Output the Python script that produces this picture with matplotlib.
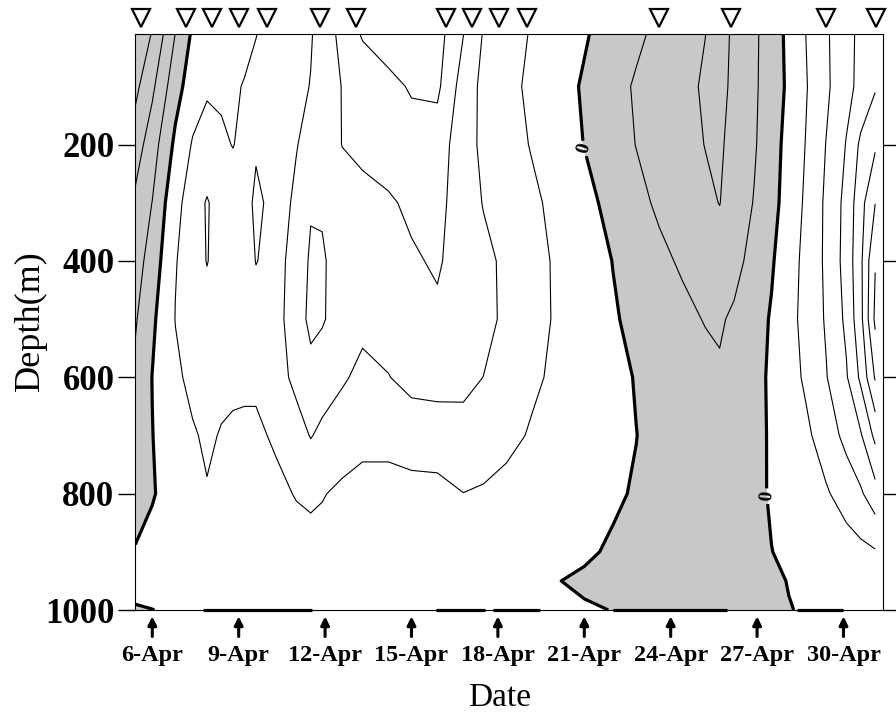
import numpy as np
import matplotlib.pyplot as plt
from matplotlib.transforms import blended_transform_factory

plt.rcParams['font.family'] = 'Liberation Serif'
plt.rcParams['contour.negative_linestyle'] = 'solid'

# time axis in day of April, depth in m
days = [5.41, 6.0, 6.8, 7.4, 7.9, 8.4, 8.8, 9.2, 9.6, 10.3, 11.0, 11.5, 11.9,
        12.6, 13.3, 14.2, 15.0, 15.9, 16.8, 17.5, 18.3, 19.2, 20.0, 21.0, 22.0,
        22.8, 23.6, 24.4, 25.2, 25.7, 26.2, 26.9, 27.5, 28.1, 28.7, 29.4, 30.1,
        30.6, 31.1]
depths = [10, 100, 200, 300, 400, 500, 600, 700, 800, 900, 950, 1000]

# velocity, in units of the contour interval (one row per depth)
u = [
    [-3.6, -2.95, -0.98, 0.15, 0.5, 0.6, 0.65, 0.75, 0.98, 1.33, 1.68, 1.93, 2.36, 3.32, 4.1, 4.5, 4.6, 4.4, 3.02, 1.93,
     1.43, 0.91, 0.55, 0.09, -0.41, -0.82, -1.22, -1.6, -1.99, -2.3, -1.86, -1.18, -0.5, 0.23, 1.01, 1.86, 2.73, 3.2, 3.6],
    [-3.25, -2.2, -0.38, 0.5, 0.95, 0.9, 0.88, 1.05, 1.2, 1.5, 1.77, 2.03, 2.4, 3.04, 3.34, 3.73, 4.1, 4.2, 2.55, 1.76,
     1.28, 0.8, 0.4, -0.1, -0.68, -1.1, -1.44, -1.77, -2.1, -2.2, -1.85, -1.15, -0.5, 0.17, 0.94, 1.82, 2.73, 3.25, 3.9],
    [-2.5, -1.45, 0.2, 1.08, 1.15, 1.1, 0.98, 1.15, 1.85, 1.55, 1.96, 2.3, 2.56, 3.02, 3.2, 3.4, 3.6, 3.5, 2.43, 1.79,
     1.38, 0.93, 0.5, -0.02, -0.57, -1.02, -1.35, -1.69, -2.02, -2.1, -1.77, -1.1, -0.4, 0.32, 1.04, 2.03, 3.05, 4.2, 4.85],
    [-1.8, -0.98, 0.75, 1.4, 2.1, 1.45, 1.3, 1.5, 2.25, 1.6, 2.16, 2.9, 2.9, 2.6, 2.75, 2.9, 3.15, 3.25, 2.55, 1.95,
     1.59, 1.17, 0.78, 0.27, -0.28, -0.74, -1.15, -1.49, -1.83, -2.02, -1.6, -0.95, -0.31, 0.4, 1.16, 2.17, 3.3, 4.65, 5.98],
    [-1.45, -0.55, 0.96, 1.35, 2.05, 1.45, 1.4, 1.5, 2.03, 1.7, 2.35, 3.15, 3.1, 2.6, 2.7, 2.8, 2.9, 3.1, 2.6, 2.25,
     1.8, 1.32, 0.9, 0.44, -0.02, -0.4, -0.79, -1.12, -1.45, -1.6, -1.3, -0.68, -0.1, 0.57, 1.28, 2.17, 3.37, 4.8, 6.95],
    [-1.1, -0.18, 1.02, 1.3, 1.5, 1.4, 1.45, 1.55, 1.6, 1.75, 2.4, 3.3, 3.1, 2.5, 2.2, 2.4, 2.6, 2.85, 2.6, 2.3,
     1.8, 1.32, 0.92, 0.5, 0.08, -0.2, -0.48, -0.76, -1.05, -1.1, -0.86, -0.37, 0.08, 0.68, 1.31, 2.1, 3.2, 4.72, 7.2],
    [-0.8, 0.02, 0.85, 1.2, 1.3, 1.2, 1.2, 1.15, 1.15, 1.6, 2.25, 2.6, 2.45, 2.1, 1.8, 1.97, 2.3, 2.4, 2.3, 1.99,
     1.6, 1.15, 0.85, 0.53, 0.22, -0.04, -0.3, -0.5, -0.7, -0.9, -0.75, -0.3, 0.15, 0.63, 1.15, 1.95, 2.9, 4.2, 6.1],
    [-0.6, -0.02, 0.6, 0.92, 1.12, 0.95, 0.85, 0.85, 0.85, 1.12, 1.6, 2.05, 1.8, 1.55, 1.25, 1.25, 1.45, 1.45, 1.6, 1.5,
     1.25, 0.9, 0.71, 0.46, 0.21, 0.01, -0.2, -0.38, -0.55, -0.65, -0.55, -0.25, 0.1, 0.47, 0.82, 1.45, 2.3, 2.9, 4.25],
    [-0.35, -0.05, 0.3, 0.65, 0.95, 0.7, 0.6, 0.6, 0.65, 0.8, 1.05, 1.15, 1.06, 0.8, 0.7, 0.7, 0.7, 0.75, 0.99, 0.9,
     0.72, 0.55, 0.4, 0.24, 0.08, -0.05, -0.2, -0.32, -0.4, -0.45, -0.4, -0.18, 0.07, 0.34, 0.6, 0.9, 1.4, 1.87, 2.6],
    [0.05, 0.2, 0.35, 0.45, 0.5, 0.45, 0.4, 0.4, 0.45, 0.55, 0.65, 0.7, 0.65, 0.55, 0.5, 0.5, 0.5, 0.55, 0.55, 0.5,
     0.4, 0.3, 0.2, 0.08, -0.07, -0.15, -0.22, -0.28, -0.3, -0.3, -0.25, -0.15, -0.01, 0.12, 0.25, 0.4, 0.6, 0.75, 0.92],
    [0.12, 0.15, 0.2, 0.25, 0.25, 0.25, 0.25, 0.25, 0.25, 0.3, 0.3, 0.35, 0.3, 0.3, 0.25, 0.25, 0.25, 0.25, 0.25, 0.25,
     0.2, 0.15, 0.02, -0.08, -0.1, -0.12, -0.15, -0.15, -0.15, -0.15, -0.15, -0.12, -0.1, 0.02, 0.12, 0.2, 0.3, 0.4, 0.5],
    [-0.03, -0.005, 0.05, 0.05, 0.05, 0.05, 0.05, 0.05, 0.05, 0.05, 0.05, 0.05, 0.05, 0.05, 0.05, 0.05, 0.05, 0.05, 0.05, 0.05,
     0.05, 0.05, 0.05, 0.05, -0.01, -0.05, -0.05, -0.05, -0.05, -0.05, -0.05, -0.05, -0.05, -0.02, 0.05, 0.05, 0.05, 0.05, 0.05],
]

# CTD cast times (triangles on top)
cast_days = [5.60, 7.16, 8.06, 9.02, 9.97, 11.82, 13.06, 16.19, 17.09, 18.04,
             19.02, 23.60, 26.09, 29.39, 31.13]
tick_days = [6, 9, 12, 15, 18, 21, 24, 27, 30]
tick_labels = ['6-Apr', '9-Apr', '12-Apr', '15-Apr', '18-Apr', '21-Apr',
               '24-Apr', '27-Apr', '30-Apr']
# stretches where the zero line runs along the bottom
bottom_zero_start = [7.77, 15.85, 17.84, 22.0, 28.39]
bottom_zero_end = [11.53, 17.55, 19.46, 25.96, 29.99]

u = np.array(u)

fig = plt.figure(figsize=(8.96, 7.17), dpi=100)
ax = fig.add_axes([0.151, 0.1492, 0.8341, 0.8034])

ax.contourf(days, depths, u, levels=[-10, 0], colors=['#c8c8c8'])
ax.contour(days, depths, u, levels=[-3, -2, -1, 1, 2, 3, 4, 5, 6, 7],
           colors='black', linewidths=0.8, linestyles='solid')
cz = ax.contour(days, depths, u, levels=[0], colors='black', linewidths=2.3)
labs = ax.clabel(cz, fmt={0: '0'}, fontsize=14, inline=True, inline_spacing=3,
                 manual=[(21.06, 206), (27.24, 805)])
for t in labs:
    t.set_fontweight('bold')

ax.hlines([1000] * len(bottom_zero_start), bottom_zero_start, bottom_zero_end,
          colors='black', linewidth=2.3, clip_on=False)

ax.set_xlim(5.41, 31.36)
ax.set_ylim(1000, 10)

trans = blended_transform_factory(ax.transData, ax.transAxes)
ax.plot(cast_days, [1.028] * len(cast_days), transform=trans, ls='none',
        marker='v', ms=12.5, mfc='white', mec='black', mew=1.6, clip_on=False)
for d in tick_days:
    ax.annotate('', xy=(d, -0.011), xytext=(d, -0.046), xycoords=trans,
                textcoords=trans, annotation_clip=False,
                arrowprops=dict(arrowstyle='-|>,head_width=0.25,head_length=0.5',
                                lw=2.2, color='black', shrinkA=0, shrinkB=0))

ax.set_xticks(tick_days)
ax.set_xticklabels(tick_labels, fontsize=17.5, fontweight='bold')
ax.tick_params(axis='x', length=0, pad=25)
ax.set_yticks([200, 400, 600, 800, 1000])
ax.tick_params(axis='y', direction='out', length=12, width=1, labelsize=25,
               pad=3, right=True)
for lab in ax.get_yticklabels():
    lab.set_fontweight('bold')

ax.set_xlabel('Date', fontsize=24)
ax.xaxis.set_label_coords(0.488, -0.125)
ax.set_ylabel('Depth(m)', fontsize=26)
ax.yaxis.set_label_coords(-0.118, 0.502)

fig.savefig('out.png', dpi=100)
